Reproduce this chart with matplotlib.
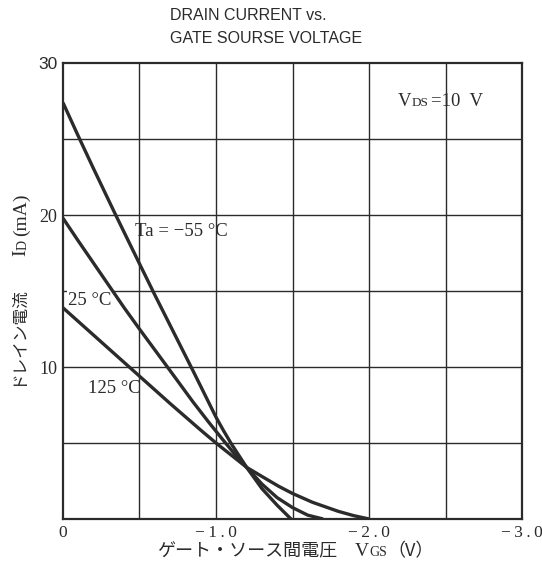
"""Drain current vs. gate-source voltage (JFET datasheet style)."""

import matplotlib

matplotlib.use("Agg")
import matplotlib.pyplot as plt
from matplotlib.transforms import IdentityTransform

# --- data (VGS in V, ID in mA) ---
vgs_m55 = [0.0, -0.10, -0.20, -0.34, -0.50, -0.60, -0.70, -0.85, -1.00, -1.05, -1.10,
           -1.20, -1.30, -1.40, -1.49]
id_m55 = [27.4, 25.2, 23.05, 20.1, 16.8, 14.75, 12.75, 9.75, 6.7, 5.8, 4.95, 3.4, 2.0,
          0.9, 0.0]

vgs_25 = [0.0, -0.10, -0.25, -0.40, -0.50, -0.69, -0.85, -0.95, -1.05, -1.12, -1.20,
          -1.30, -1.40, -1.50, -1.60, -1.70]
id_25 = [19.8, 18.3, 16.1, 13.9, 12.5, 9.9, 7.7, 6.4, 5.15, 4.3, 3.4, 2.3, 1.4, 0.75,
         0.25, 0.0]

vgs_125 = [0.0, -0.20, -0.45, -0.70, -0.90, -1.00, -1.10, -1.20, -1.30, -1.41, -1.50,
           -1.63, -1.80, -1.90, -2.00]
id_125 = [13.9, 12.1, 9.85, 7.6, 5.85, 5.0, 4.2, 3.4, 2.8, 2.15, 1.68, 1.1, 0.5, 0.22, 0.0]

x_ticks = [0.0, -1.0, -2.0, -3.0]
x_tick_labels = ["0", "\u2212\u20091\u2009.\u20090", "\u2212\u20092\u2009.\u20090",
                 "\u2212\u20093\u2009.\u20090"]
y_ticks = [10, 20, 30]
y_tick_labels = ["10", "20", "30"]

SERIF = "Liberation Serif"
SANS = "Liberation Sans"
JP = ["Noto Sans CJK JP", "DejaVu Sans"]
INK = "#2b2b2b"

fig = plt.figure(figsize=(5.42, 5.69), dpi=100)
ax = fig.add_axes([0.1162, 0.0879, 0.847, 0.8011])


def text_run(x0, y0, pieces, vertical=False):
    """Lay out text pieces one after another (pixel coords).

    Horizontal runs share a baseline; vertical (rotated) runs share a centre line.
    pieces: (text, family, size, shift px, gap before px)
    """
    renderer = fig.canvas.get_renderer()
    pos = 0.0
    for s, family, size, shift, gap in pieces:
        pos += gap
        if vertical:
            t = fig.text(x0 + shift, y0 + pos, s, transform=IdentityTransform(),
                         fontfamily=family, fontsize=size, color=INK, rotation=90,
                         ha="center", va="bottom")
        else:
            t = fig.text(x0 + pos, y0 - shift, s, transform=IdentityTransform(),
                         fontfamily=family, fontsize=size, color=INK,
                         ha="left", va="baseline")
        bb = t.get_window_extent(renderer)
        pos += bb.height if vertical else bb.width


# grid every 0.5 V / 5 mA
for v in [-0.5, -1.0, -1.5, -2.0, -2.5]:
    ax.axvline(v, color=INK, lw=1.0, zorder=1)
for i in [5, 10, 15, 20, 25]:
    ax.axhline(i, color=INK, lw=1.0, zorder=1)

for xs, ys in [(vgs_m55, id_m55), (vgs_25, id_25), (vgs_125, id_125)]:
    ax.plot(xs, ys, color=INK, lw=2.4, solid_capstyle="butt", solid_joinstyle="round",
            zorder=3)

ax.set_xlim(0, -3.0)
ax.set_ylim(0, 30)
for s in ax.spines.values():
    s.set_linewidth(1.6)
    s.set_color(INK)

ax.set_xticks(x_ticks)
ax.set_xticklabels(x_tick_labels, fontfamily=SERIF, fontsize=12.5)
ax.set_yticks(y_ticks)
ax.set_yticklabels(y_tick_labels, fontfamily=SERIF, fontsize=13)
ax.get_yticklabels()[-1].set_fontfamily(SANS)
ax.get_yticklabels()[-1].set_fontsize(12.5)
ax.tick_params(length=0, pad=4, colors=INK)

# curve labels
ax.text(-0.47, 18.6, "Ta = \u221255 \u00b0C", fontfamily=SERIF, fontsize=13.5,
        color=INK, zorder=4)
ax.text(-0.035, 14.1, "25 \u00b0C", fontfamily=SERIF, fontsize=13.5, color=INK, zorder=2,
        bbox=dict(facecolor="white", edgecolor="none", pad=1))
ax.text(-0.165, 8.3, "125 \u00b0C", fontfamily=SERIF, fontsize=13.5, color=INK, zorder=4)

# V_DS = 10 V
text_run(398, 463, [
    ("V", SERIF, 13.5, 0, 0),
    ("DS", SERIF, 9.5, 0, 0),
    ("=10  V", SERIF, 13.5, 0, 3),
])

# x label: ゲート・ソース間電圧  VGS (V)
text_run(157, 13, [
    ("\u30b2\u30fc\u30c8\u30fb\u30bd\u30fc\u30b9\u9593\u96fb\u5727", JP, 13, 0, 0),
    ("V", SERIF, 14, 0, 18),
    ("GS", SERIF, 10, -0.5, 0),
    ("\uff08V\uff09", JP, 13, 0, 0),
])

# y label: ドレイン電流  ID (mA)
text_run(21, 183, [
    ("\u30c9\u30ec\u30a4\u30f3\u96fb\u6d41", JP, 12, -4, 0),
    ("I", SERIF, 14, 0, 30),
    ("D", SERIF, 10, 2.5, 0),
    ("(mA)", SERIF, 14, 0, 4),
], vertical=True)

# title
fig.text(0.314, 0.972, "DRAIN CURRENT vs.", fontfamily=SANS, fontsize=11.5, color=INK,
         va="center")
fig.text(0.314, 0.932, "GATE SOURSE VOLTAGE", fontfamily=SANS, fontsize=11.5, color=INK,
         va="center")

fig.savefig("out.png", dpi=100)
